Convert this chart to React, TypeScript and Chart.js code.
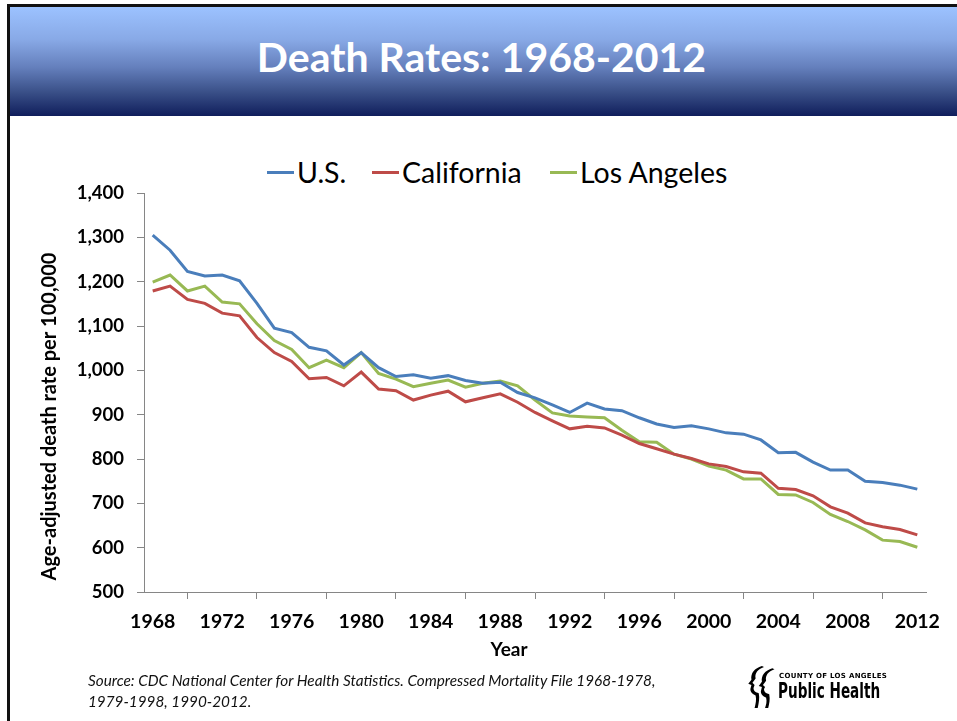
import React, { useEffect, useRef } from "react";
import { Chart, registerables } from "chart.js";

Chart.register(...registerables);

const years = [
  "1968", "1969", "1970", "1971", "1972", "1973", "1974", "1975", "1976", "1977",
  "1978", "1979", "1980", "1981", "1982", "1983", "1984", "1985", "1986", "1987",
  "1988", "1989", "1990", "1991", "1992", "1993", "1994", "1995", "1996", "1997",
  "1998", "1999", "2000", "2001", "2002", "2003", "2004", "2005", "2006", "2007",
  "2008", "2009", "2010", "2011", "2012",
];

const usRates = [
  1305, 1271, 1223, 1213, 1215, 1202, 1151, 1095, 1085, 1052,
  1044, 1012, 1040, 1006, 986, 990, 982, 988, 977, 971,
  973, 950, 938, 922, 905, 926, 913, 909, 893, 879,
  871, 875, 868, 859, 856, 843, 814, 815, 793, 775,
  775, 750, 747, 741, 732,
];

const californiaRates = [
  1179, 1190, 1160, 1151, 1129, 1123, 1074, 1040, 1020, 981,
  984, 965, 996, 958, 954, 933, 944, 953, 929, 938,
  947, 928, 905, 886, 868, 874, 870, 854, 835, 823,
  811, 801, 789, 783, 771, 768, 734, 731, 717, 692,
  678, 656, 647, 641, 629,
];

const losAngelesRates = [
  1199, 1215, 1179, 1190, 1154, 1150, 1105, 1067, 1047, 1006,
  1023, 1006, 1040, 993, 980, 963, 971, 978, 962, 971,
  976, 965, 933, 904, 897, 895, 893, 865, 839, 838,
  811, 800, 784, 775, 755, 755, 720, 719, 702, 675,
  659, 640, 617, 614, 601,
];

const seriesNames = ["U.S.", "California", "Los Angeles"];
const seriesColors = ["#4A7EBB", "#BE4B48", "#98B954"];

const yTicks = [500, 600, 700, 800, 900, 1000, 1100, 1200, 1300, 1400];

const titleText = "Death Rates: 1968-2012";
const yTitle = "Age-adjusted death rate per 100,000";
const xTitle = "Year";
const sourceLines = [
  "Source: CDC National Center for Health Statistics. Compressed Mortality File  1968-1978,",
  "1979-1998, 1990-2012.",
];

const axisColor = "#868686";

const axisTitlesPlugin = {
  id: "axisTitles",
  afterDraw(chart: any) {
    const { ctx, chartArea } = chart;
    ctx.save();
    ctx.fillStyle = "#000";
    ctx.textAlign = "center";
    ctx.textBaseline = "middle";
    ctx.font = "bold 20px Lato";
    ctx.translate(chartArea.left - 94, (chartArea.top + chartArea.bottom) / 2 + 24);
    ctx.rotate(-Math.PI / 2);
    ctx.fillText(yTitle, 0, 0);
    ctx.restore();

    ctx.save();
    ctx.fillStyle = "#000";
    ctx.textAlign = "center";
    ctx.textBaseline = "middle";
    ctx.font = "bold 19px Lato";
    ctx.fillText(xTitle, (chartArea.left + chartArea.right) / 2 - 26, chartArea.bottom + 58);
    ctx.restore();
  },
};

function DeathRatesChart() {
  const canvasRef = useRef<HTMLCanvasElement | null>(null);

  useEffect(() => {
    const canvas = canvasRef.current;
    if (!canvas) return;
    const datasets = [usRates, californiaRates, losAngelesRates].map((data, i) => ({
      label: seriesNames[i],
      data,
      borderColor: seriesColors[i],
      backgroundColor: seriesColors[i],
      borderWidth: 3,
      pointRadius: 0,
      tension: 0,
      fill: false,
    }));
    const chart = new Chart(canvas, {
      type: "line",
      data: { labels: years, datasets },
      plugins: [axisTitlesPlugin],
      options: {
        animation: false,
        responsive: false,
        maintainAspectRatio: false,
        layout: { padding: { left: 0, top: 193, right: 31, bottom: 0 } },
        plugins: {
          legend: { display: false },
          tooltip: { enabled: false },
          title: { display: false },
        },
        scales: {
          x: {
            type: "category",
            offset: true,
            grid: {
              offset: true,
              drawOnChartArea: false,
              drawTicks: true,
              tickLength: 7,
              color: axisColor,
              lineWidth: 1,
            },
            border: { color: axisColor, width: 1 },
            ticks: {
              autoSkip: false,
              maxRotation: 0,
              minRotation: 0,
              color: "#000",
              padding: 11,
              font: { family: "Lato", weight: "bold", size: 19.5 },
              callback: (_v: any, i: number) => (i % 4 === 0 ? years[i] : null),
            },
            afterFit: (scale: any) => {
              scale.height = 129;
            },
          },
          y: {
            min: yTicks[0],
            max: yTicks[yTicks.length - 1],
            grid: {
              drawOnChartArea: false,
              drawTicks: true,
              tickLength: 7,
              color: axisColor,
              lineWidth: 1,
            },
            border: { color: axisColor, width: 1 },
            afterBuildTicks: (scale: any) => {
              scale.ticks = yTicks.map((v) => ({ value: v }));
            },
            ticks: {
              color: "#000",
              padding: 13,
              font: { family: "Lato", weight: "bold", size: 18.5 },
              callback: (v: any) => Number(v).toLocaleString("en-US"),
            },
            afterFit: (scale: any) => {
              scale.width = 144;
            },
          },
        },
      },
    });
    return () => chart.destroy();
  }, []);

  return (
    <canvas
      ref={canvasRef}
      width={957}
      height={721}
      style={{ position: "absolute", left: 0, top: 0, width: 957, height: 721 }}
    />
  );
}

function Logo() {
  return (
    <div style={{ position: "absolute", left: 747, top: 665, width: 140, height: 46 }}>
      <svg width="34" height="44" viewBox="0 0 32 42" style={{ position: "absolute", left: 0, top: 0 }}>
        <path
          d="M14 1 C7 3 3 8 4 14 L1 18 L4 19 L3 23 C3 27 6 28 8 29 C9 33 8 37 7 41 L10 41 C11 36 12 32 11 27 C8 26 6 25 6 22 L7 19 L5 17 L8 13 C7 8 10 4 16 2 Z"
          fill="#000"
        />
        <path
          d="M24 3 C17 5 13 10 14 16 L11 20 L14 21 L13 25 C13 29 16 30 18 31 C19 35 18 38 17 41 L20 41 C21 37 22 33 21 28 C18 27 16 26 16 23 L17 21 L15 19 L18 15 C17 10 20 6 26 4 Z"
          fill="#000"
        />
      </svg>
      <div
        style={{
          position: "absolute",
          left: 32,
          top: 7,
          fontFamily: "'DejaVu Sans', sans-serif",
          fontWeight: "bold",
          fontSize: 7,
          letterSpacing: 0.3,
          color: "#000",
          whiteSpace: "nowrap",
          lineHeight: "8px",
        }}
      >
        COUNTY OF LOS ANGELES
      </div>
      <div
        style={{
          position: "absolute",
          left: 31,
          top: 14,
          fontFamily: "'DejaVu Sans Condensed', 'DejaVu Sans', sans-serif",
          fontWeight: "bold",
          fontSize: 21,
          color: "#000",
          whiteSpace: "nowrap",
          lineHeight: "24px",
          transform: "scaleX(0.72)",
          transformOrigin: "left top",
        }}
      >
        Public Health
      </div>
    </div>
  );
}

const legendPositions = [
  { line: 267, text: 297 },
  { line: 372, text: 402 },
  { line: 550, text: 580 },
];

export default function App() {
  return (
    <div
      style={{
        position: "fixed",
        left: 0,
        top: 0,
        width: 957,
        height: 721,
        background: "#fff",
        overflow: "hidden",
        fontFamily: "Lato, sans-serif",
      }}
    >
      <div style={{ position: "absolute", left: 7, top: 4, width: 950, height: 3, background: "#111" }} />
      <div style={{ position: "absolute", left: 7, top: 4, width: 3, height: 717, background: "#111" }} />
      <div
        style={{
          position: "absolute",
          left: 10,
          top: 7,
          width: 947,
          height: 109,
          background: "linear-gradient(to bottom, #9CC2FF 0%, #88A9E6 30%, #6580BD 55%, #3A5088 78%, #101E5C 100%)",
        }}
      />
      <div
        style={{
          position: "absolute",
          left: 8,
          top: 32,
          width: 947,
          textAlign: "center",
          color: "#fff",
          fontWeight: "bold",
          fontSize: 41,
          lineHeight: "49px",
          whiteSpace: "nowrap",
        }}
      >
        {titleText}
      </div>
      {seriesNames.map((name, i) => (
        <React.Fragment key={name}>
          <div
            style={{
              position: "absolute",
              left: legendPositions[i].line,
              top: 171,
              width: 27,
              height: 3,
              background: seriesColors[i],
            }}
          />
          <div
            style={{
              position: "absolute",
              left: legendPositions[i].text,
              top: 156,
              fontSize: 28.5,
              lineHeight: "33.6px",
              color: "#000",
              whiteSpace: "nowrap",
            }}
          >
            {name}
          </div>
        </React.Fragment>
      ))}
      <DeathRatesChart />
      <div
        style={{
          position: "absolute",
          left: 88,
          top: 670,
          fontStyle: "italic",
          fontSize: 15.3,
          lineHeight: "21px",
          color: "#111",
          whiteSpace: "nowrap",
        }}
      >
        {sourceLines.map((l) => (
          <div key={l}>{l}</div>
        ))}
      </div>
      <Logo />
    </div>
  );
}
